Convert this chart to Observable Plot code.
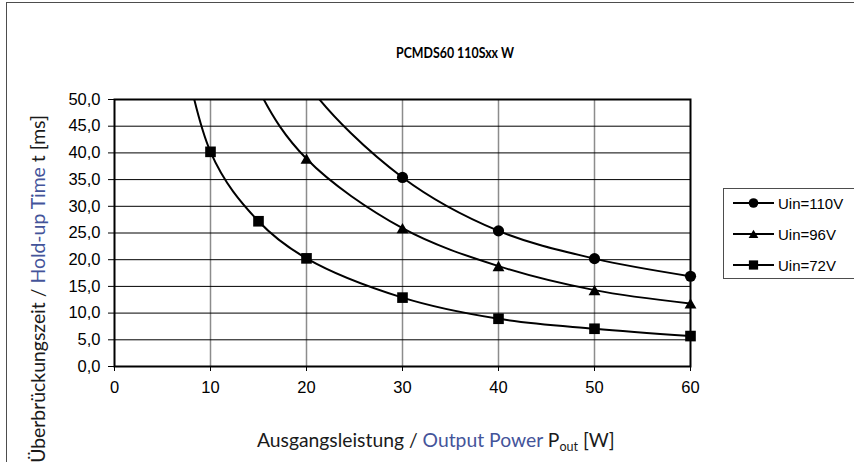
<!DOCTYPE html>
<html><head><meta charset="utf-8">
<script src="https://cdn.jsdelivr.net/npm/d3@7"></script>
<script src="https://cdn.jsdelivr.net/npm/@observablehq/plot@0.6"></script>
<style>
body{margin:0;background:#fff;}
#wrap{position:relative;width:854px;height:462px;overflow:hidden;background:#fff;}
#frameBox{position:absolute;left:6px;top:2px;width:1000px;height:700px;border:1.5px solid #4d4d4d;box-sizing:border-box;}
#plot{position:absolute;left:0;top:0;}
.lab{position:absolute;white-space:nowrap;font-family:Lato,'Noto Sans',sans-serif;color:#1a1a1a;line-height:1;}
#title{left:455px;top:44px;font-weight:bold;font-size:16px;color:#000;transform-origin:50% 50%;}
#xlabel{left:257px;top:430px;font-size:21px;}
#ylabel{left:38px;top:289px;font-size:21px;transform:translate(-50%,-50%) rotate(-90deg);}
.blue{color:#44549a;}
sub{font-size:65%;vertical-align:-0.35em;line-height:0;}
#legend{position:absolute;left:723px;top:188px;}
</style></head>
<body>
<div id="wrap">
  <div id="frameBox"></div>
  <div id="plot"></div>
  <div id="title" class="lab">PCMDS60 110Sxx W</div>
  <div id="xlabel" class="lab">Ausgangsleistung / <span class="blue">Output Power</span> P<sub>out</sub> [W]</div>
  <div id="ylabel" class="lab">Überbrückungszeit / <span class="blue">Hold-up Time</span> t [ms]</div>
  <svg id="legend" width="131" height="91"></svg>
</div>
<script>
// Tick values
const xTicks = [0, 10, 20, 30, 40, 50, 60];
const yTicks = [0, 5, 10, 15, 20, 25, 30, 35, 40, 45, 50];

// Series names
const seriesNames = ["Uin=110V", "Uin=96V", "Uin=72V"];
const seriesSymbols = ["circle", "triangle", "square"];

// Output power (W) and hold-up time (ms); values above 50 lie off the chart top
const p110 = [15, 20, 30, 40, 50, 60];
const t110 = [70.8, 53.1, 35.4, 25.4, 20.2, 16.9];
const p96 = [10, 15, 20, 30, 40, 50, 60];
const t96 = [77.8, 51.9, 38.9, 25.9, 18.8, 14.3, 11.8];
const p72 = [5, 10, 15, 20, 30, 40, 50, 60];
const t72 = [80.4, 40.2, 27.2, 20.25, 12.9, 8.94, 7.07, 5.7];

const rows = [];
[[p110, t110], [p96, t96], [p72, t72]].forEach(([ps, ts], i) => {
  ps.forEach((p, j) => rows.push({series: seriesNames[i], p, t: ts[j]}));
});

const symStyle = {
  "circle": {r: 5.6, dy: 0},
  "triangle": {r: 4.4, dy: 1.6},
  "square": {r: 6.0, dy: 0}
};

const marks = [
  Plot.ruleX(xTicks.slice(1, -1), {stroke: "#8c8c8c", strokeWidth: 1.5}),
  Plot.ruleY(yTicks.slice(1, -1), {stroke: "#000", strokeWidth: 1})
];
seriesNames.forEach((name, i) => {
  const data = rows.filter(d => d.series === name);
  marks.push(Plot.line(data, {x: "p", y: "t", stroke: "#000", strokeWidth: 2, curve: "catmull-rom", clip: true}));
});
seriesNames.forEach((name, i) => {
  const data = rows.filter(d => d.series === name && d.t <= 50);
  const s = symStyle[seriesSymbols[i]];
  marks.push(Plot.dot(data, {x: "p", y: "t", symbol: seriesSymbols[i], r: s.r, dy: s.dy, fill: "#000", stroke: "none"}));
});
marks.push(Plot.frame({stroke: "#000", strokeWidth: 2}));

const chart = Plot.plot({
  width: 854, height: 462,
  marginLeft: 114, marginRight: 164, marginTop: 99, marginBottom: 96,
  style: {fontFamily: "'Liberation Sans', Arial, sans-serif", fontSize: "16.5px", color: "#000", background: "transparent", overflow: "visible"},
  x: {domain: [0, 60], ticks: xTicks, tickSize: 5, tickPadding: 10, label: null, tickFormat: d => String(d)},
  y: {domain: [0, 50], ticks: yTicks, tickSize: 6, tickPadding: 8, label: null, tickFormat: d => d.toFixed(1).replace(".", ",")},
  marks
});
document.getElementById("plot").appendChild(chart);

// Legend
const lg = d3.select("#legend");
lg.append("rect").attr("x", 0.5).attr("y", 0.5).attr("width", 135).attr("height", 90)
  .attr("fill", "#fff").attr("stroke", "#4d4d4d").attr("stroke-width", 1);
const legY = [15, 46, 77];
const legSym = {circle: d3.symbolCircle, triangle: d3.symbolTriangle, square: d3.symbolSquare};
const legSize = {circle: Math.PI * 4.8 * 4.8, triangle: Math.PI * 3.6 * 3.6, square: Math.PI * 5.2 * 5.2};
seriesNames.forEach((name, i) => {
  const g = lg.append("g").attr("transform", `translate(0,${legY[i]})`);
  g.append("line").attr("x1", 10).attr("x2", 51).attr("stroke", "#000").attr("stroke-width", 2);
  const sy = seriesSymbols[i];
  g.append("path").attr("d", d3.symbol(legSym[sy], legSize[sy])()).attr("transform", `translate(30.5,${sy === "triangle" ? 1.3 : 0})`).attr("fill", "#000");
  g.append("text").attr("x", 55).attr("y", 5.5).attr("font-family", "'Liberation Sans', Arial, sans-serif")
    .attr("font-size", 15).attr("fill", "#000").text(name);
});

// fit the Calibri-substitute labels to the measured widths of the reference
function fit(id, target) {
  const el = document.getElementById(id);
  const w = el.getBoundingClientRect();
  const cur = parseFloat(getComputedStyle(el).fontSize);
  const width = id === "ylabel" ? w.height : w.width;
  el.style.fontSize = (cur * target / width) + "px";
}
fit("xlabel", 358);
fit("ylabel", 348);
// title: keep the letter height, compress horizontally to the reference width
(function () {
  const el = document.getElementById("title");
  const w = el.getBoundingClientRect().width;
  el.style.transform = `translateX(-50%) scaleX(${118 / w})`;
})();
</script>
</body></html>
